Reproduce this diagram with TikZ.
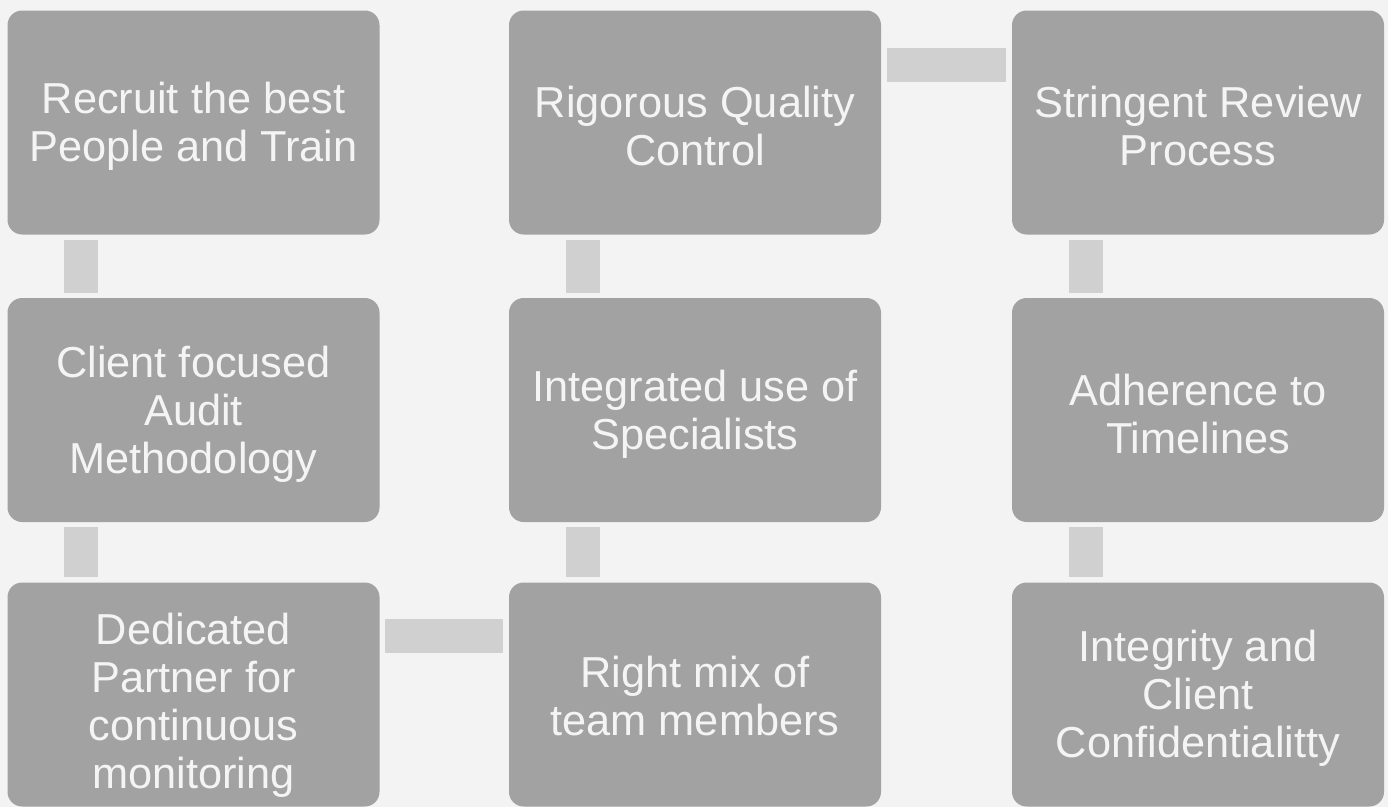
\documentclass[tikz,border=0pt]{standalone}
\usepackage{fontspec}
\setmainfont{Liberation Sans}
\usetikzlibrary{calc}
\definecolor{bg}{HTML}{F3F3F3}
\definecolor{boxgray}{HTML}{A2A2A2}
\definecolor{conngray}{HTML}{D0D0D0}
\definecolor{txt}{HTML}{F4F4F4}
\tikzset{
  box/.style={draw=none, fill=boxgray, rounded corners=11pt, minimum width=279pt, minimum height=168pt,
    inner sep=0pt},
  lbl/.style={inner sep=0pt, align=center, text=txt, font=\fontsize{32.5}{36}\selectfont},
  vconn/.style={draw=conngray, line width=25.5pt, line cap=butt, shorten <=3.75pt, shorten >=3.75pt},
  hconn/.style={draw=conngray, line width=25.5pt, line cap=butt, shorten <=4pt, shorten >=4pt}
}
\begin{document}
\begin{tikzpicture}[x=0.75pt, y=-0.75pt]
\fill[bg] (0,0) rectangle (1388,807);
\useasboundingbox (0,0) rectangle (1388,807);
\node[box] (b1) at (193.5,122.5) {};
\node[box] (b2) at (695,122.5) {};
\node[box] (b3) at (1198,122.5) {};
\node[box] (b4) at (193.5,410) {};
\node[box] (b5) at (695,410) {};
\node[box] (b6) at (1198,410) {};
\node[box] (b7) at (193.5,694.5) {};
\node[box] (b8) at (695,694.5) {};
\node[box] (b9) at (1198,694.5) {};
\node[lbl] (t1) at ($(b1)+(0,4)$) {Recruit the best\\People and Train};
\node[lbl] (t2) at ($(b2)+(0,4)$) {Rigorous Quality\\Control};
\node[lbl] (t3) at ($(b3)+(0,4)$) {Stringent Review\\Process};
\node[lbl] (t4) at ($(b4)+(0,4)$) {Client focused\\Audit\\Methodology};
\node[lbl] (t5) at ($(b5)+(0,4)$) {Integrated use of\\Specialists};
\node[lbl] (t6) at ($(b6)+(0,4)$) {Adherence to\\Timelines};
\node[lbl] (t7) at ($(b7)+(0,11)$) {Dedicated\\Partner for\\continuous\\monitoring};
\node[lbl] (t8) at ($(b8)+(0,2)$) {Right mix of\\team members};
\node[lbl] (t9) at ($(b9)+(0,4)$) {Integrity and\\Client\\Confidentialitty};
% vertical connectors
\draw[vconn] ($(b1.south west)+(74,0)$) -- ($(b4.north west)+(74,0)$);
\draw[vconn] ($(b4.south west)+(74,0)$) -- ($(b7.north west)+(74,0)$);
\draw[vconn] ($(b2.south west)+(74,0)$) -- ($(b5.north west)+(74,0)$);
\draw[vconn] ($(b5.south west)+(74,0)$) -- ($(b8.north west)+(74,0)$);
\draw[vconn] ($(b3.south west)+(74,0)$) -- ($(b6.north west)+(74,0)$);
\draw[vconn] ($(b6.south west)+(74,0)$) -- ($(b9.north west)+(74,0)$);
% horizontal connectors
\draw[hconn] ($(b2.north east)+(0,55)$) -- ($(b3.north west)+(0,55)$);
\draw[hconn] ($(b7.north east)+(0,54)$) -- ($(b8.north west)+(0,54)$);
\end{tikzpicture}
\end{document}
